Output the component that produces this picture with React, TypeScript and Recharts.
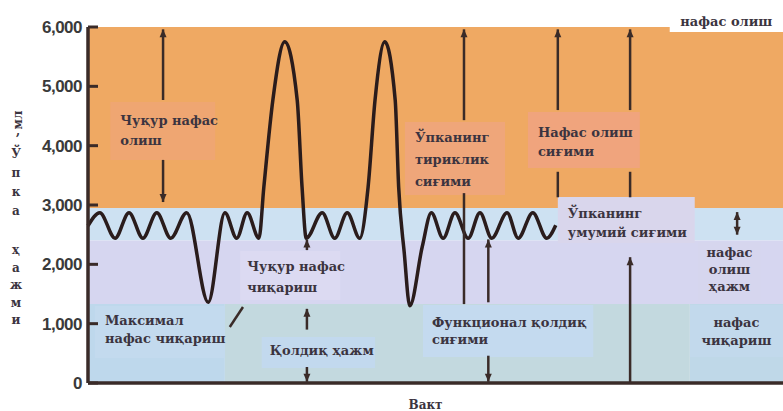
import React from 'react';
import { ComposedChart, Line, XAxis, YAxis, ReferenceArea, ReferenceLine } from 'recharts';

// time runs 0..100 across the plot, volume in ml
const time = [
  0, 1.7, 3.9, 5.9, 7.9, 9.9, 11.9, 14.2, 17.3, 19.7, 21.4, 22.9, 24.6, 25.3, 26.6, 28.3, 30.1, 30.8, 31.4,
  33.7, 35.5, 37.3, 39.1, 40.3, 41.3, 42.7, 44.2, 44.7, 45.5, 46.3, 48.1, 49.4, 51.1, 52.8, 54.7, 56.4, 58.1,
  60.3, 61.9, 64.0, 66.0, 67.3,
];
const volume = [
  2650, 2870, 2440, 2870, 2440, 2870, 2440, 2870, 1360, 2870, 2440, 2870, 2440, 3300, 4770, 5750, 4770, 3300, 2440,
  2870, 2440, 2870, 2440, 3300, 4770, 5750, 4770, 3300, 2200, 1300, 2300, 2870, 2440, 2870, 2440, 2870, 2440,
  2870, 2440, 2870, 2440, 2660,
];
const yTicks = [0, 1000, 2000, 3000, 4000, 5000, 6000];

const data = time.map((t, i) => ({ t, v: volume[i] }));

const INK = '#3a2b28';
const TEXT = '#3b3440';
const SERIF = '"DejaVu Serif", "Liberation Serif", serif';

// background bands (x in time units, y in ml)
const bands = [
  { x1: 0, x2: 100, y1: 2950, y2: 6000, fill: '#EFA963' },
  { x1: 0, x2: 100, y1: 2400, y2: 2950, fill: '#CDE1F2' },
  { x1: 0, x2: 100, y1: 1330, y2: 2400, fill: '#D6D6F0' },
  { x1: 0, x2: 19.7, y1: 0, y2: 1330, fill: '#BED8EC' },
  { x1: 19.7, x2: 86.6, y1: 0, y2: 1330, fill: '#C3D9DF' },
  { x1: 86.6, x2: 100, y1: 0, y2: 1330, fill: '#BFD8E8' },
];

// label boxes: x in time units, y in ml
const boxes = [
  { x1: 3.2, x2: 18.3, y1: 3758, y2: 4736, fill: '#EFA672', lines: ['Чуқур нафас', 'олиш'], dx: 10, dy: 23, lh: 20 },
  { x1: 45.6, x2: 60.0, y1: 3169, y2: 4399, fill: '#EFA67A', lines: ['Ўпканинг', 'тириклик', 'сиғими'], dx: 10, dy: 20, lh: 22 },
  { x1: 63.3, x2: 79.4, y1: 3624, y2: 4567, fill: '#F0A47D', lines: ['Нафас олиш', 'сиғими'], dx: 10, dy: 25, lh: 19 },
  { x1: 67.6, x2: 87.3, y1: 2359, y2: 3135, fill: '#D9D6EC', lines: ['Ўпканинг', 'умумий сиғими'], dx: 10, dy: 21, lh: 19 },
  { x1: 21.9, x2: 36.3, y1: 1399, y2: 2225, fill: '#DCDAF2', lines: ['Чуқур нафас', 'чиқариш'], dx: 7, dy: 20, lh: 21 },
  { x1: 87.8, x2: 96.8, y1: 1399, y2: 2376, fill: '#D6D6EE', lines: ['нафас', 'олиш', 'ҳажм'], dx: 0, dy: 15, lh: 17, anchor: 'middle' },
  { x1: 1.0, x2: 19.7, y1: 421, y2: 1298, fill: '#C3DAEE', lines: ['Максимал', 'нафас чиқариш'], dx: 10, dy: 19, lh: 18 },
  { x1: 25.0, x2: 41.3, y1: 253, y2: 775, fill: '#C2D9EE', lines: ['Қолдиқ ҳажм'], dx: 8, dy: 18, lh: 18 },
  { x1: 48.2, x2: 72.7, y1: 438, y2: 1315, fill: '#C4DAEF', lines: ['Функционал қолдиқ', 'сиғими'], dx: 9, dy: 22, lh: 17 },
  { x1: 86.6, x2: 100, y1: 438, y2: 1315, fill: '#C2D9EC', lines: ['нафас', 'чиқариш'], dx: 0, dy: 22, lh: 18, anchor: 'middle' },
  { x1: 83.7, x2: 100, y1: 5916, y2: 6404, fill: '#FFFFFF', lines: ['нафас олиш'], dx: 0, dy: 23, lh: 18, anchor: 'middle' },
];

// pointer lines
const arrows = [
  { x1: 10.8, y1: 4770, x2: 10.8, y2: 5960, head: 'end' },
  { x1: 10.8, y1: 3760, x2: 10.8, y2: 3050, head: 'end' },
  { x1: 31.5, y1: 2240, x2: 31.5, y2: 2420, head: 'end' },
  { x1: 31.5, y1: 900, x2: 31.5, y2: 1250, head: 'end' },
  { x1: 31.5, y1: 270, x2: 31.5, y2: 20, head: 'end' },
  { x1: 54.1, y1: 4430, x2: 54.1, y2: 5960, head: 'end' },
  { x1: 54.1, y1: 3200, x2: 54.1, y2: 1330, head: 'none' },
  { x1: 57.6, y1: 1360, x2: 57.6, y2: 2420, head: 'end' },
  { x1: 57.6, y1: 460, x2: 57.6, y2: 20, head: 'end' },
  { x1: 67.6, y1: 4600, x2: 67.6, y2: 5960, head: 'end' },
  { x1: 67.6, y1: 3560, x2: 67.6, y2: 3130, head: 'none' },
  { x1: 78.0, y1: 4600, x2: 78.0, y2: 5960, head: 'end' },
  { x1: 78.0, y1: 3560, x2: 78.0, y2: 3130, head: 'none' },
  { x1: 78.0, y1: 0, x2: 78.0, y2: 2120, head: 'end' },
  { x1: 93.4, y1: 2500, x2: 93.4, y2: 2880, head: 'both' },
  { x1: 20.4, y1: 944, x2: 22.3, y2: 1281, head: 'none' },
];

const arrowShape = (head: string) => (p: any) => {
  const { x1, y1, x2, y2 } = p;
  const len = Math.hypot(x2 - x1, y2 - y1) || 1;
  const ux = (x2 - x1) / len;
  const uy = (y2 - y1) / len;
  const tri = (x: number, y: number, dx: number, dy: number) => {
    const bx = x - dx * 8;
    const by = y - dy * 8;
    return `${x},${y} ${bx - dy * 3.5},${by + dx * 3.5} ${bx + dy * 3.5},${by - dx * 3.5}`;
  };
  return (
    <g>
      <line x1={x1} y1={y1} x2={x2} y2={y2} stroke={INK} strokeWidth={2.5} />
      {(head === 'end' || head === 'both') && <polygon points={tri(x2, y2, ux, uy)} fill={INK} />}
      {head === 'both' && <polygon points={tri(x1, y1, -ux, -uy)} fill={INK} />}
    </g>
  );
};

const BoxText = ({ viewBox, lines, dx, dy, lh, anchor }: any) => {
  if (!viewBox) return null;
  const tx = anchor === 'middle' ? viewBox.x + viewBox.width / 2 : viewBox.x + dx;
  return (
    <text textAnchor={anchor || 'start'} fill={TEXT} fontFamily={SERIF} fontWeight="bold" fontSize={13}>
      {lines.map((l: string, i: number) => (
        <tspan key={i} x={tx} y={viewBox.y + dy + i * lh}>{l}</tspan>
      ))}
    </text>
  );
};

const YTick = ({ x, y, payload }: any) => (
  <g>
    <line x1={x + 6} x2={x + 16} y1={y} y2={y} stroke={INK} strokeWidth={3} />
    <text x={x} y={y} dy={6} textAnchor="end" fill="#3a3a3a" fontFamily="Liberation Sans, Arial, sans-serif"
      fontWeight="bold" fontSize={17} letterSpacing={-0.5}>
      {payload.value.toLocaleString('en-US')}
    </text>
  </g>
);

const YLabel = ({ viewBox }: any) => {
  if (!viewBox) return null;
  const x = viewBox.x + 16;
  const top = viewBox.y;
  const word1 = ['Ў', 'п', 'к', 'а'];
  const word2 = ['ҳ', 'а', 'ж', 'м', 'и'];
  const style = { fill: TEXT, fontFamily: SERIF, fontWeight: 'bold' as const, fontSize: 12 };
  return (
    <g>
      <text x={x + 2} y={top + 93} transform={`rotate(-90 ${x + 2} ${top + 93})`} textAnchor="middle" dy={4} {...style}>мл</text>
      <text x={x + 2} y={top + 108} textAnchor="middle" {...style}>,</text>
      {word1.map((c, i) => (
        <text key={'a' + i} x={x} y={top + 131 + i * 19} textAnchor="middle" {...style}>{c}</text>
      ))}
      {word2.map((c, i) => (
        <text key={'b' + i} x={x} y={top + 227 + i * 17.5} textAnchor="middle" {...style}>{c}</text>
      ))}
    </g>
  );
};

const XLabel = ({ viewBox }: any) => {
  if (!viewBox) return null;
  return (
    <text x={viewBox.x + viewBox.width / 2 - 10} y={viewBox.y + 26} textAnchor="middle" fill={TEXT}
      fontFamily={SERIF} fontWeight="bold" fontSize={12}>
      Вакт
    </text>
  );
};

export default function App() {
  return (
    <div style={{ position: 'absolute', left: 0, top: 0, width: 783, height: 411, background: '#fff' }}>
      <ComposedChart width={783} height={411} data={data} margin={{ top: 27, right: 0, bottom: 0, left: 0 }}>
        <XAxis dataKey="t" type="number" domain={[0, 100]} height={28} tick={false} tickLine={false}
          axisLine={{ stroke: INK, strokeWidth: 3.5 }} label={<XLabel />} />
        <YAxis type="number" domain={[0, 6000]} ticks={yTicks} width={88} tickSize={0} tickMargin={6}
          tick={<YTick />} axisLine={{ stroke: INK, strokeWidth: 3.5 }} label={<YLabel />} />
        {bands.map((b, i) => (
          <ReferenceArea key={'band' + i} x1={b.x1} x2={b.x2} y1={b.y1} y2={b.y2} fill={b.fill} fillOpacity={1}
            stroke="none" ifOverflow="visible" />
        ))}
        {boxes.map((b, i) => (
          <ReferenceArea key={'box' + i} x1={b.x1} x2={b.x2} y1={b.y1} y2={b.y2} fill={b.fill} fillOpacity={1}
            stroke="none" ifOverflow="visible"
            label={<BoxText lines={b.lines} dx={b.dx} dy={b.dy} lh={b.lh} anchor={b.anchor} />} />
        ))}
        <Line dataKey="v" type="monotone" stroke="#2a1c1c" strokeWidth={3.5} dot={false} activeDot={false}
          isAnimationActive={false} />
        {arrows.map((a, i) => (
          <ReferenceLine key={'arr' + i} segment={[{ x: a.x1, y: a.y1 }, { x: a.x2, y: a.y2 }]}
            stroke={INK} ifOverflow="visible" shape={arrowShape(a.head)} />
        ))}
      </ComposedChart>
    </div>
  );
}
